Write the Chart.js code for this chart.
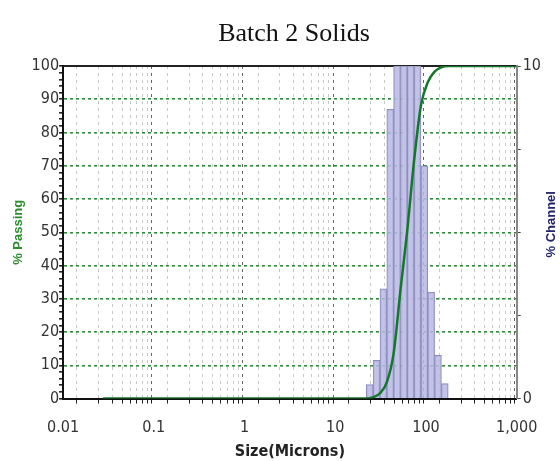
<!DOCTYPE html>
<html>
<head>
<meta charset="utf-8">
<script src="https://cdn.jsdelivr.net/npm/chart.js@4.4.0/dist/chart.umd.min.js"></script>
<style>
  html, body { margin:0; padding:0; background:#fff; }
  #wrap { position:relative; width:560px; height:461px; }
  #title { position:absolute; left:194px; width:200px; top:18px; text-align:center;
           font:26px 'Liberation Serif','Times New Roman',serif; color:#111; line-height:30px; }
</style>
</head>
<body>
<div id="wrap">
  <canvas id="chart" width="560" height="461"></canvas>
  <div id="title">Batch 2 Solids</div>
</div>
<script>
// --------------------
// DATA
// --------------------
// channel edges in microns and % of sample in each channel
const channelEdges = [22, 26.16, 31.11, 37, 44, 52.33, 62.23, 74, 88, 104.7, 124.5, 148, 176];
const channelPct   = [0.42, 1.15, 3.3, 8.7, 19, 18, 21, 16.5, 7.0, 3.2, 1.3, 0.45];

// cumulative % passing curve
const passSize = [0.0276, 22, 26.16, 31.11, 37, 44, 52.33, 62.23, 74, 88, 104.7, 124.5, 148, 176, 1000];
const passPct  = [0, 0, 0.4, 1.6, 4.9, 13.6, 32.6, 50.6, 71.6, 88.1, 95.1, 98.3, 99.6, 100, 100];

const xLabels = {0.01:'0.01', 0.1:'0.1', 1:'1', 10:'10', 100:'100', 1000:'1,000'};
const decades = [0.01, 0.1, 1, 10, 100, 1000];

// --------------------
// HELPERS
// --------------------
const NARROW = "'DejaVu Sans Condensed', 'Liberation Sans', Arial, sans-serif";
function isDecade(v){ return decades.some(d => Math.abs(v - d) < d*1e-6); }
function decadeLabel(v){
  const d = decades.find(d => Math.abs(v - d) < d*1e-6);
  return d === undefined ? '' : xLabels[d];
}

// all 1..9 x 10^n ticks for the log axis
function logTicks(){
  const t = [];
  for (let e = -2; e < 3; e++){
    for (let k = 1; k <= 9; k++){
      const v = +(k * Math.pow(10, e)).toPrecision(3);
      t.push({value: v, major: k === 1});
    }
  }
  t.push({value: 1000, major: true});
  return t;
}

// right-hand title reads bottom to top, so draw it ourselves
const rightTitle = {
  id: 'rightTitle',
  afterDraw(chart){
    const ctx = chart.ctx;
    const a = chart.chartArea;
    ctx.save();
    ctx.translate(551, (a.top + a.bottom)/2 - 8);
    ctx.rotate(-Math.PI/2);
    ctx.font = "bold 13px 'Liberation Sans', Arial, sans-serif";
    ctx.fillStyle = '#22226e';
    ctx.textAlign = 'center';
    ctx.textBaseline = 'middle';
    ctx.fillText('% Channel', 0, 0);
    ctx.restore();
  }
};

const barData = channelPct.map((v, i) => ({x: Math.sqrt(channelEdges[i]*channelEdges[i+1]), y: v}));
const lineData = passSize.map((s, i) => ({x: s, y: passPct[i]}));

new Chart(document.getElementById('chart'), {
  type: 'bar',
  data: {
    datasets: [
      {
        type: 'line', data: lineData, xAxisID: 'x', yAxisID: 'y', order: 1,
        borderColor: '#13782a', borderWidth: 2.5, pointRadius: 0,
        cubicInterpolationMode: 'monotone', fill: false
      },
      {
        type: 'bar', data: barData, xAxisID: 'x2', yAxisID: 'y2', order: 2,
        backgroundColor: 'rgba(184,184,228,0.85)', borderColor: '#8c8cbe', borderWidth: 1,
        barPercentage: 1, categoryPercentage: 1, grouped: false
      }
    ]
  },
  options: {
    responsive: false,
    animation: false,
    devicePixelRatio: 1,
    layout: { padding: { top: 66, left: 11, right: 17, bottom: 0 } },
    plugins: {
      legend: { display: false },
      tooltip: { enabled: false },
      title: { display: false }
    },
    scales: {
      x: {
        type: 'logarithmic', position: 'bottom', min: 0.01, max: 1000,
        afterBuildTicks: s => { s.ticks = logTicks(); },
        ticks: {
          autoSkip: false, maxRotation: 0, color: '#333', padding: 15,
          font: { family: NARROW, size: 16 },
          callback: v => decadeLabel(v)
        },
        grid: {
          color: c => (c.tick && isDecade(c.tick.value)) ? '#666' : '#c8c8c8',
          lineWidth: 1, tickColor: '#222', tickLength: 5
        },
        border: { color: '#111', width: 2, dash: [3, 4] },
        title: {
          display: true, text: 'Size(Microns)', color: '#222', padding: { top: -11, bottom: 0 },
          font: { family: NARROW, size: 16, weight: 'bold' }
        }
      },
      x2: {
        type: 'logarithmic', position: 'top', min: 0.01, max: 1000,
        afterBuildTicks: s => { s.ticks = decades.map(v => ({value: v, major: true})); },
        ticks: { display: false },
        grid: { drawOnChartArea: false, drawTicks: false },
        border: { color: '#222', width: 2 }
      },
      y: {
        position: 'left', min: 0, max: 100,
        ticks: {
          stepSize: 2, autoSkip: false, color: '#333', padding: 0,
          font: { family: NARROW, size: 16 },
          callback: v => v % 10 === 0 ? String(v) : ''
        },
        grid: {
          color: c => (c.tick && c.tick.value % 10 === 0 && c.tick.value > 0 && c.tick.value < 100) ? '#2f8a3a' : 'rgba(0,0,0,0)',
          lineWidth: 1.6, tickColor: '#222', tickLength: 4
        },
        border: { color: '#111', width: 2, dash: [3, 3] },
        title: {
          display: true, text: '% Passing', color: '#2a8f2a', padding: { top: 0, bottom: 5 },
          font: { family: "'Liberation Sans', Arial, sans-serif", size: 13, weight: 'bold' }
        }
      },
      y2: {
        position: 'right', min: 0, max: 10,
        ticks: {
          stepSize: 2.5, autoSkip: false, color: '#333', padding: 2,
          font: { family: NARROW, size: 16 },
          callback: v => (v === 0 || v === 10) ? String(v) : ''
        },
        grid: { drawOnChartArea: false, tickColor: '#444', tickLength: 4 },
        border: { color: '#888', width: 2 }
      }
    }
  },
  plugins: [rightTitle]
});
</script>
</body>
</html>
